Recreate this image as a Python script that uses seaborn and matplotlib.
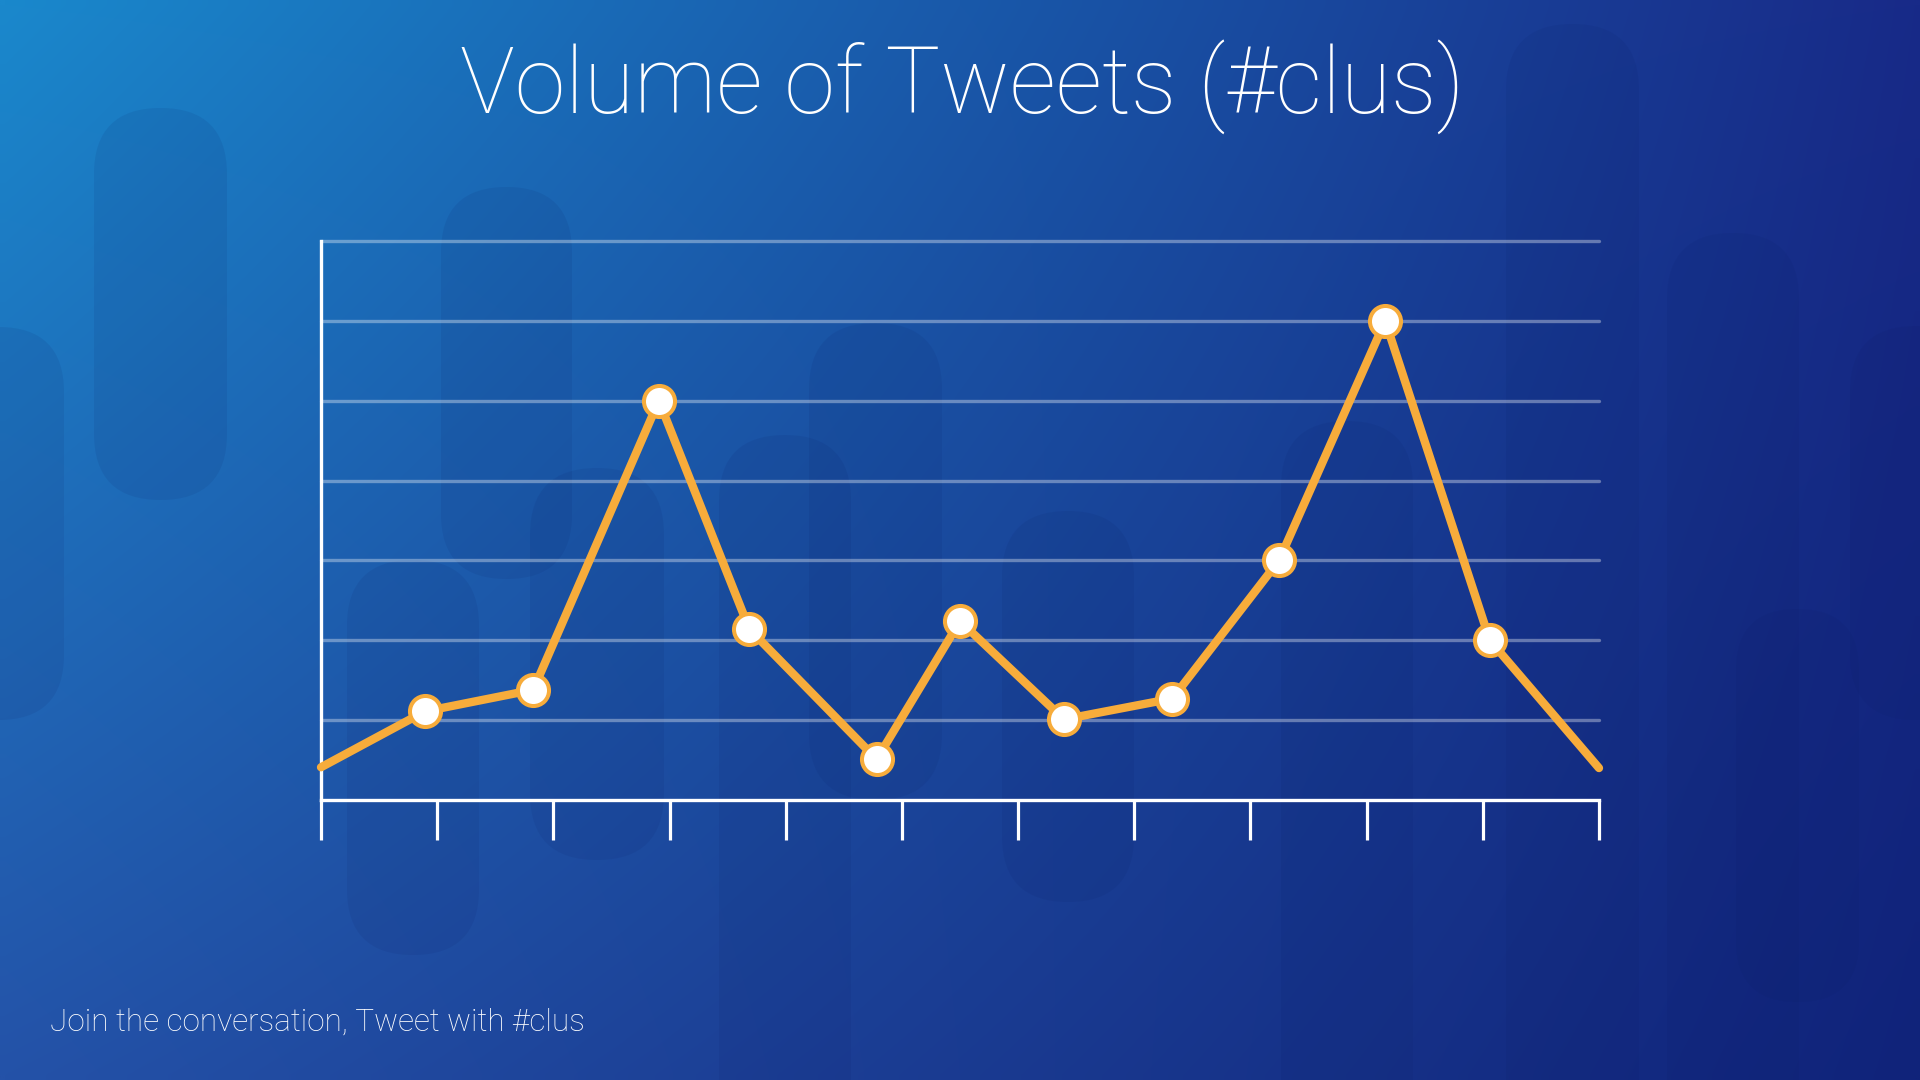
import numpy as np
import pandas as pd
import matplotlib
matplotlib.use("Agg")
import matplotlib.pyplot as plt
import seaborn as sns
from matplotlib.patches import FancyBboxPatch
from matplotlib.colors import to_rgb

# ---------------- data ----------------
x_pos = [0.0, 0.895, 1.827, 2.908, 3.687, 4.783, 5.50, 6.395, 7.328, 8.246, 9.16, 10.06, 11.0]
volume = [0.41, 1.11, 1.38, 5.0, 2.14, 0.51, 2.24, 1.01, 1.27, 3.0, 6.0, 2.0, 0.40]
x_ticks = list(range(12))
grid_levels = list(range(1, 8))
title = "Volume of Tweets (#clus)"
footer = "Join the conversation, Tweet with #clus"

ORANGE = "#F7AC3B"

sns.set_theme(style="white")
plt.rcParams["font.family"] = ["Roboto", "Lato", "DejaVu Sans"]

fig = plt.figure(figsize=(19.2, 10.8), dpi=100)

# ---------------- background ----------------
bg = fig.add_axes([0, 0, 1, 1])
bg.set_xlim(0, 1920)
bg.set_ylim(1080, 0)
bg.axis("off")

TL, TR = np.array(to_rgb("#1A88CC")), np.array(to_rgb("#182A88"))
BL, BR = np.array(to_rgb("#2452A8")), np.array(to_rgb("#10237A"))
u = np.linspace(0, 1, 192)[None, :, None]
v = np.linspace(0, 1, 108)[:, None, None]
img = (1 - u) * (1 - v) * TL + u * (1 - v) * TR + (1 - u) * v * BL + u * v * BR
bg.imshow(img, extent=[0, 1920, 1080, 0], aspect="auto", interpolation="bilinear", zorder=0)

# decorative pills (x0, x1, top, bottom) in pixels
pills = [
    (-67, 64, 327, 720),
    (94, 227, 108, 500),
    (441, 572, 187, 579),
    (347, 479, 560, 955),
    (530, 664, 468, 860),
    (719, 851, 435, 1200),
    (809, 942, 323, 800),
    (1002, 1134, 511, 902),
    (1281, 1413, 421, 1200),
    (1506, 1639, 24, 1200),
    (1667, 1799, 233, 1200),
    (1736, 1859, 609, 1002),
    (1850, 1982, 326, 720),
]
for x0, x1, top, bot in pills:
    w = x1 - x0
    p = FancyBboxPatch((x0, top), w, bot - top,
                       boxstyle=f"round,pad=0,rounding_size={w/2}",
                       facecolor="#0A1B60", edgecolor="none", alpha=0.09, zorder=1)
    bg.add_patch(p)

# ---------------- chart ----------------
ax = fig.add_axes([321 / 1920, 280 / 1080, 1278 / 1920, 559 / 1080])
ax.patch.set_alpha(0)
df = pd.DataFrame({"x": x_pos, "volume": volume})

sns.lineplot(data=df, x="x", y="volume", ax=ax, color=ORANGE, linewidth=6.0,
             solid_capstyle="round", solid_joinstyle="miter", clip_on=False, zorder=3)
sns.scatterplot(data=df.iloc[1:-1], x="x", y="volume", ax=ax, s=500, color="white",
                edgecolor=ORANGE, linewidth=2.9, zorder=4, clip_on=False, legend=False)

ax.set_xlim(0, 11)
ax.set_ylim(0, 7)
ax.set_xticks(x_ticks)
ax.set_xticklabels([])
ax.set_yticks(grid_levels)
ax.set_yticklabels([])
ax.tick_params(axis="x", bottom=True, length=29, width=2.3, color="white", direction="out")
ax.tick_params(axis="y", left=False, length=0)
ax.set_xlabel("")
ax.set_ylabel("")
ax.xaxis.grid(False)
ax.yaxis.grid(True, color="white", alpha=0.35, linewidth=2.4)
for gl in ax.get_ygridlines():
    gl.set_clip_on(False)
    gl.set_solid_capstyle("round")
ax.set_axisbelow(True)
for s in ["top", "right"]:
    ax.spines[s].set_visible(False)
for s in ["left", "bottom"]:
    ax.spines[s].set_color("white")
    ax.spines[s].set_linewidth(2.4)

# ---------------- text ----------------
fig.text(962 / 1920, 1 - 113 / 1080, title, ha="center", va="baseline",
         fontsize=66, color="white", fontweight="light")
fig.text(50 / 1920, 1 - 1031 / 1080, footer, ha="left", va="baseline",
         fontsize=22.7, color="white", fontweight="light")

fig.savefig("out.png", dpi=100)
